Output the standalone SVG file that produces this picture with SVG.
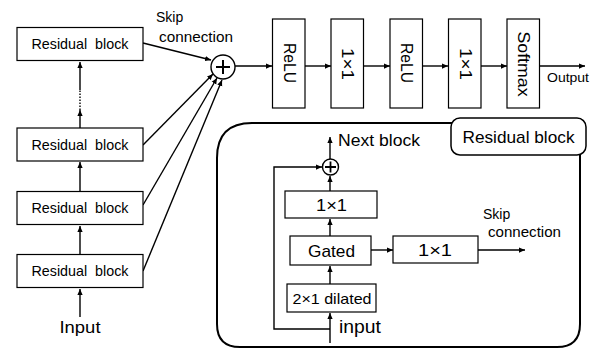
<svg xmlns="http://www.w3.org/2000/svg" width="598" height="349" viewBox="0 0 598 349">
<defs>
<marker id="ah" viewBox="0 0 8 8" refX="8" refY="4" markerWidth="6" markerHeight="6" markerUnits="userSpaceOnUse" orient="auto">
<path d="M0,0.5 L8,4 L0,7.5 Z" fill="#000"/>
</marker>
<style>
.box{fill:#fff;stroke:#000;stroke-width:1.2}
.t{font-family:"Liberation Sans",Arial,sans-serif;fill:#000}
.c{stroke:#000;stroke-width:1.4;fill:none}
.a{marker-end:url(#ah)}
</style>
</defs>
<rect width="598" height="349" fill="#fff"/>

<g id="container">
<path d="M252,123 H560 Q580,123 580,143 V324 Q580,347 557,347 H240 Q217,347 217,324 V158 Q217,123 252,123 Z" fill="#fff" stroke="#000" stroke-width="2"/>
</g>

<g id="connectors">
<line class="c a" x1="80" y1="317" x2="80" y2="289"/>
<line class="c a" x1="80" y1="254" x2="80" y2="226"/>
<line class="c a" x1="80" y1="191" x2="80" y2="162"/>
<line class="c a" x1="80" y1="128" x2="80" y2="110"/>
<line class="c" x1="80" y1="110" x2="80" y2="90" stroke-dasharray="1.5,1.5"/>
<line class="c a" x1="80" y1="90" x2="80" y2="62"/>
<line class="c a" x1="143" y1="43" x2="211" y2="60"/>
<line class="c a" x1="143" y1="145" x2="213" y2="74"/>
<line class="c a" x1="143" y1="205" x2="217" y2="78"/>
<line class="c a" x1="143" y1="271" x2="222" y2="80"/>
<line class="c a" x1="235" y1="66" x2="272" y2="66"/>
<line class="c a" x1="305" y1="66" x2="331" y2="66"/>
<line class="c a" x1="363" y1="66" x2="390" y2="66"/>
<line class="c a" x1="422" y1="66" x2="448" y2="66"/>
<line class="c a" x1="481" y1="66" x2="507" y2="66"/>
<line class="c a" x1="539" y1="66" x2="585" y2="66"/>
<line class="c a" x1="330" y1="343" x2="330" y2="313"/>
<line class="c a" x1="330" y1="284" x2="330" y2="266"/>
<line class="c a" x1="330" y1="236" x2="330" y2="219"/>
<line class="c a" x1="330" y1="191" x2="330" y2="176"/>
<line class="c a" x1="330" y1="159" x2="330" y2="137"/>
<polyline class="c a" points="330,329 274,329 274,167 322,167"/>
<line class="c a" x1="371" y1="250" x2="393" y2="250"/>
<line class="c a" x1="478" y1="250" x2="525" y2="250"/>
</g>

<g id="rb1"><rect class="box" x="17" y="27.5" width="126" height="33"/><text class="t" x="80" y="49" font-size="14.5" text-anchor="middle" textLength="97" lengthAdjust="spacingAndGlyphs" xml:space="preserve">Residual  block</text></g>
<g id="rb2"><rect class="box" x="17" y="128" width="126" height="33"/><text class="t" x="80" y="150" font-size="14.5" text-anchor="middle" textLength="97" lengthAdjust="spacingAndGlyphs" xml:space="preserve">Residual  block</text></g>
<g id="rb3"><rect class="box" x="17" y="191.5" width="126" height="33"/><text class="t" x="80" y="213" font-size="14.5" text-anchor="middle" textLength="97" lengthAdjust="spacingAndGlyphs" xml:space="preserve">Residual  block</text></g>
<g id="rb4"><rect class="box" x="17" y="254.5" width="126" height="33"/><text class="t" x="80" y="276" font-size="14.5" text-anchor="middle" textLength="97" lengthAdjust="spacingAndGlyphs" xml:space="preserve">Residual  block</text></g>
<g id="input-label"><text class="t" x="80" y="333" font-size="17" text-anchor="middle" textLength="41" lengthAdjust="spacingAndGlyphs">Input</text></g>
<g id="skip-label"><text class="t" x="156" y="22" font-size="14">Skip</text><text class="t" x="159" y="42" font-size="14.5" textLength="74" lengthAdjust="spacingAndGlyphs">connection</text></g>
<g id="sum"><circle cx="223" cy="67" r="12" fill="#fff" stroke="#000" stroke-width="1.4"/><path d="M216,67 H230 M223,60 V74" stroke="#000" stroke-width="2"/></g>

<g id="relu1"><rect class="box" x="272.5" y="19" width="32.5" height="89"/><text class="t" font-size="16" text-anchor="middle" dominant-baseline="central" transform="translate(289,63) rotate(90)" textLength="40" lengthAdjust="spacingAndGlyphs">ReLU</text></g>
<g id="conv1"><rect class="box" x="331" y="19" width="32.5" height="89"/><text class="t" font-size="17" text-anchor="middle" dominant-baseline="central" transform="translate(347,64) rotate(90)" textLength="32" lengthAdjust="spacingAndGlyphs">1×1</text></g>
<g id="relu2"><rect class="box" x="390" y="19" width="32.5" height="89"/><text class="t" font-size="16" text-anchor="middle" dominant-baseline="central" transform="translate(406,63) rotate(90)" textLength="40" lengthAdjust="spacingAndGlyphs">ReLU</text></g>
<g id="conv2"><rect class="box" x="448.5" y="19" width="32.5" height="89"/><text class="t" font-size="17" text-anchor="middle" dominant-baseline="central" transform="translate(465,64) rotate(90)" textLength="32" lengthAdjust="spacingAndGlyphs">1×1</text></g>
<g id="softmax"><rect class="box" x="507" y="19" width="32.5" height="89"/><text class="t" font-size="17" text-anchor="middle" dominant-baseline="central" transform="translate(523,64) rotate(90)" textLength="65" lengthAdjust="spacingAndGlyphs">Softmax</text></g>
<g id="output-label"><text class="t" x="547" y="82" font-size="13.5" textLength="42" lengthAdjust="spacingAndGlyphs">Output</text></g>

<g id="rb-label"><rect x="451" y="118" width="135" height="37" rx="9" fill="#fff" stroke="#000" stroke-width="1.5"/><text class="t" x="518.5" y="142.5" font-size="17" text-anchor="middle" textLength="112" lengthAdjust="spacingAndGlyphs">Residual block</text></g>
<g id="next-label"><text class="t" x="338" y="146" font-size="17" textLength="82" lengthAdjust="spacingAndGlyphs">Next block</text></g>
<g id="inner-sum"><circle cx="330.5" cy="167" r="8" fill="#fff" stroke="#000" stroke-width="1.4"/><path d="M325,167 H336 M330.5,161.5 V172.5" stroke="#000" stroke-width="1.8"/></g>
<g id="inner-conv"><rect class="box" x="285" y="191" width="92" height="27"/><text class="t" x="331.5" y="210.5" font-size="17" text-anchor="middle" textLength="31" lengthAdjust="spacingAndGlyphs">1×1</text></g>
<g id="gated"><rect class="box" x="290" y="236" width="81" height="29"/><text class="t" x="331.5" y="256.5" font-size="17" text-anchor="middle" textLength="47" lengthAdjust="spacingAndGlyphs">Gated</text></g>
<g id="dilated"><rect class="box" x="287" y="284" width="89" height="28"/><text class="t" x="332" y="303.5" font-size="14.5" text-anchor="middle" textLength="79" lengthAdjust="spacingAndGlyphs">2×1 dilated</text></g>
<g id="skip-conv"><rect class="box" x="393" y="236" width="85" height="27"/><text class="t" x="435" y="255.5" font-size="17" text-anchor="middle" textLength="34" lengthAdjust="spacingAndGlyphs">1×1</text></g>
<g id="inner-input"><text class="t" x="339" y="333" font-size="18" textLength="42" lengthAdjust="spacingAndGlyphs">input</text></g>
<g id="inner-skip"><text class="t" x="483" y="219" font-size="14">Skip</text><text class="t" x="488" y="237" font-size="14.5" textLength="73" lengthAdjust="spacingAndGlyphs">connection</text></g>
</svg>
